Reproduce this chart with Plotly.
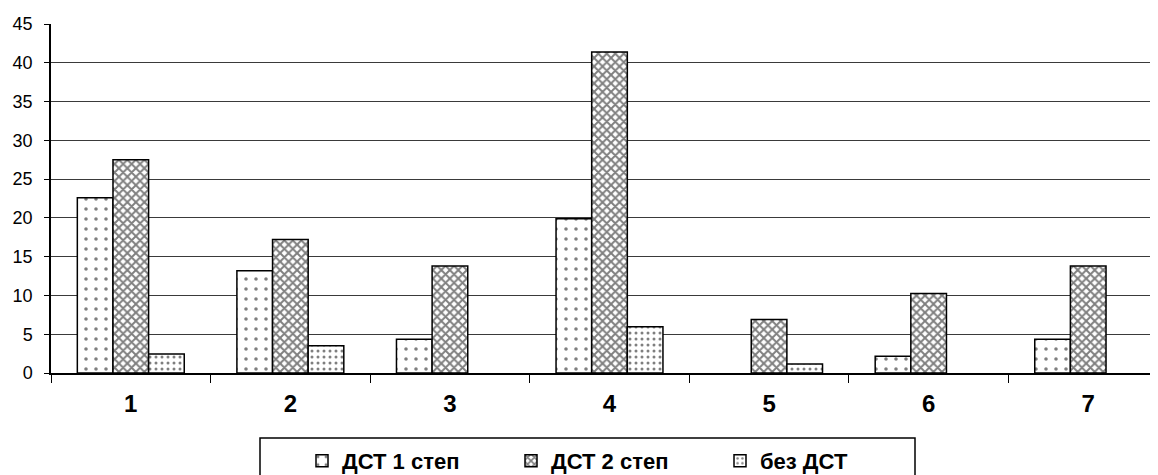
import plotly.graph_objects as go

categories = ["1", "2", "3", "4", "5", "6", "7"]
series_names = ["ДСТ 1 степ", "ДСТ 2 степ", "без ДСТ"]
dst1 = [22.6, 13.2, 4.35, 19.9, None, 2.15, 4.35]
dst2 = [27.5, 17.2, 13.8, 41.4, 6.9, 10.25, 13.8]
no_dst = [2.45, 3.5, None, 5.95, 1.15, None, None]
y_ticks = [0, 5, 10, 15, 20, 25, 30, 35, 40, 45]

FONT = "Liberation Sans, Arial, sans-serif"

patterns = [
    dict(shape=".", size=10, solidity=0.1, fgcolor="black", bgcolor="white"),
    dict(shape="x", size=6, solidity=0.55, fgcolor="black", bgcolor="white"),
    dict(shape=".", size=6, solidity=0.2, fgcolor="black", bgcolor="white"),
]

fig = go.Figure()
for name, vals, pat in zip(series_names, [dst1, dst2, no_dst], patterns):
    fig.add_trace(go.Bar(
        x=categories, y=vals, name=name,
        marker=dict(color="white", line=dict(color="black", width=1.5), pattern=pat),
    ))

# page offset of the figure (default body margin)
OFF = 8
W, H = 1158 - OFF, 475 - OFF
PLOT_L, PLOT_T, PLOT_B = 51, 24, 373  # absolute page pixels of plot area
L, T = PLOT_L - OFF, PLOT_T - OFF
B = H - (PLOT_B - OFF)
R = 0
pw, ph = W - L - R, H - T - B

def px_x(px):
    return (px - OFF - L) / pw

def px_y(py):
    return (H - B - (py - OFF)) / ph

fig.update_layout(
    width=W, height=H,
    margin=dict(l=L, r=R, t=T, b=B, autoexpand=False),
    paper_bgcolor="white", plot_bgcolor="white",
    barmode="group", bargap=0.33, bargroupgap=0,
    font=dict(family=FONT, color="black"),
    showlegend=True,
    legend=dict(
        orientation="h", x=px_x(302), xanchor="left", y=px_y(461), yanchor="middle",
        font=dict(family=FONT, size=22, color="black", weight="bold"),
        bgcolor="rgba(0,0,0,0)", entrywidth=164, entrywidthmode="pixels",
        itemwidth=30,
    ),
    shapes=[dict(
        type="rect", xref="paper", yref="paper",
        x0=px_x(260), x1=px_x(915), y0=px_y(438), y1=px_y(482),
        line=dict(color="black", width=1.5), fillcolor="rgba(0,0,0,0)", layer="below",
    )],
)

fig.update_xaxes(
    type="category", range=[-0.5, 6.5 - 10 / 159.6],
    showline=True, linecolor="black", linewidth=1.5,
    ticks="outside", tickson="boundaries", ticklen=8, tickcolor="black", tickwidth=1,
    tickfont=dict(family=FONT, size=24, color="black", weight="bold"),
    ticklabelstandoff=8,
    showgrid=False, zeroline=False,
)
fig.update_yaxes(
    range=[0, 45], tickvals=y_ticks, ticktext=[str(v) for v in y_ticks],
    showline=True, linecolor="black", linewidth=1.5,
    ticks="outside", ticklen=5, tickcolor="black",
    tickfont=dict(family=FONT, size=18, color="black"),
    ticklabelstandoff=8,
    showgrid=True, gridcolor="#3a3a3a", gridwidth=1, zeroline=False,
)

fig.write_html("out.html")
